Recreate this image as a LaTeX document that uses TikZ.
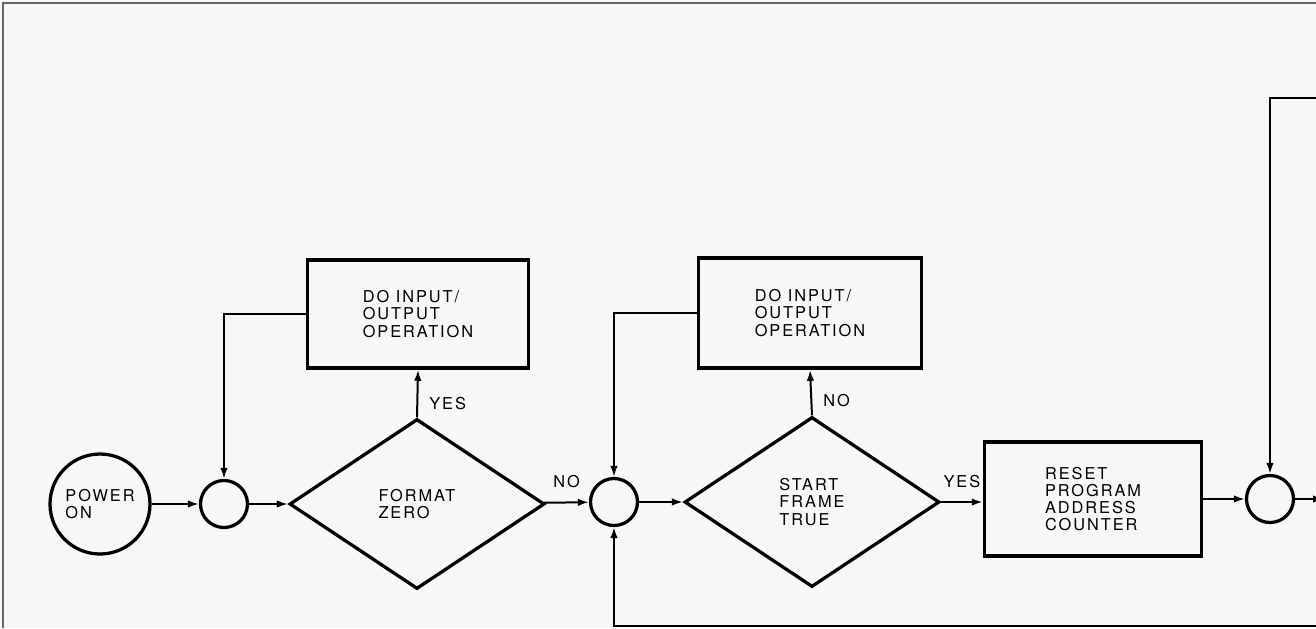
\documentclass[tikz,border=0pt]{standalone}
\usepackage{fontspec}
\newfontfamily\chartfont[LetterSpace=12]{TeX Gyre Heros}
\usetikzlibrary{arrows.meta,shapes.geometric}

\begin{document}
\begin{tikzpicture}[
    x=0.2mm, y=-0.2mm,
    font=\chartfont\fontsize{9.3}{9.7}\selectfont,
    box/.style={draw, line width=0.7mm, align=left, inner sep=0pt},
    test/.style={draw, diamond, line width=0.65mm, align=left, inner sep=0pt,
      minimum width=51mm, minimum height=34mm},
    joint/.style={draw, circle, line width=0.65mm, minimum size=9.4mm, inner sep=0pt},
    arr/.style={-{Latex[length=2.2mm, width=1.5mm]}, line width=0.4mm},
    lbl/.style={inner sep=0pt}
  ]
    \path[use as bounding box, fill=black!3] (0,0) rectangle (1316,628);
    \draw[black!60, line width=0.3mm] (1316,3) -- (3,3) -- (3,628);

    \node[draw, circle, line width=0.65mm, minimum size=20mm, inner sep=0pt, align=left]
      (power) at (100,504) {POWER\\ON};
    \node[joint] (j1) at (224,504) {};
    \node[test] (fmt) at (417,504) {FORMAT\\ZERO};
    \node[box, minimum width=44.2mm, minimum height=21.6mm] (io1) at (418,314)
      {DO INPUT/\\OUTPUT\\OPERATION};

    \node[joint] (j2) at (614,502) {};
    \node[test] (start) at (812,502) {START\\FRAME\\TRUE};
    \node[box, minimum width=44.6mm, minimum height=22mm] (io2) at (810,313)
      {DO INPUT/\\OUTPUT\\OPERATION};

    \node[box, minimum width=43.4mm, minimum height=22.8mm] (reset) at (1093,499)
      {RESET\\PROGRAM\\ADDRESS\\COUNTER};
    \node[joint] (j3) at (1270,499) {};

    \coordinate (loopin) at (1330,98);
    \coordinate (loopback) at (1330,626);
    \coordinate (onward) at (1324,499);

    \draw[arr] (power) -- (j1);
    \draw[arr] (j1) -- (fmt);
    \draw[arr] (fmt.north) -- node[lbl, right=2.2mm, pos=0.3] {YES} (io1.south);
    \draw[arr] (io1.west) -| (j1.north);
    \draw[arr] (fmt) -- node[lbl, above=2.7mm] {NO} (j2);
    \draw[arr] (j2) -- (start);
    \draw[arr] (start.north) -- node[lbl, right=2.2mm, pos=0.33] {NO} (io2.south);
    \draw[arr] (io2.west) -| (j2.north);
    \draw[arr] (start.east) -- node[lbl, above=2.7mm] {YES} (start.east -| reset.west);
    \draw[arr] (reset) -- (j3);
    \draw[arr] (j3) -- (onward);
    \draw[arr] (loopin) -| (j3.north);
    \draw[arr] (loopback) -| (j2.south);
  \end{tikzpicture}
\end{document}
